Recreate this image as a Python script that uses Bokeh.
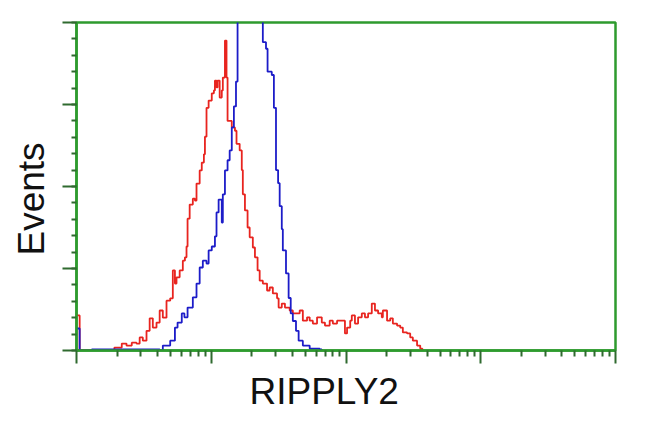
from bokeh.plotting import figure
from bokeh.models import Range1d, FixedTicker, SingleIntervalTicker, Title
from bokeh.embed import file_html
from bokeh.resources import INLINE

# channel numbers (256 channels per decade) and event counts
blue_ch = [0, 6, 29, 139, 158, 164, 178, 187, 192, 200, 205, 211, 221, 228, 234, 240, 247, 251, 257,
           263, 266, 270, 276, 278, 282, 287, 291, 295, 299, 303, 306, 312, 320, 327, 335, 343, 348,
           354, 360, 363, 371, 375, 379, 383, 386, 390, 392, 398, 403, 407, 411, 417, 422, 430, 443,
           462, 466]
blue_cnt = [6.7, 0, 0.3, 0.3, 0, 1.5, 3.0, 7.0, 8.5, 11.3, 10.1, 13.1, 16.2, 20.4, 25.3, 27.4, 26.5,
            30.5, 31.7, 34.8, 42.1, 46, 39, 47.6, 54.9, 58, 61, 68, 74.4, 82, 108, 118, 126, 130, 127,
            121, 112, 94, 92, 85, 84, 74, 55, 51, 44, 37, 30.5, 23.5, 16, 11.3, 9, 6, 3, 1.5, 0.6,
            0.3, 0]

red_ch = [0, 6, 72, 86, 95, 105, 114, 120, 126, 133, 139, 145, 152, 158, 164, 171, 178, 183, 187, 190,
          196, 202, 206, 209, 211, 215, 221, 225, 228, 234, 238, 242, 244, 247, 251, 257, 261, 263,
          266, 268, 272, 276, 278, 282, 285, 287, 295, 301, 304, 310, 314, 316, 320, 325, 329, 335,
          339, 344, 348, 354, 362, 367, 373, 381, 384, 390, 396, 405, 411, 419, 424, 430, 438, 443,
          449, 457, 466, 472, 481, 487, 495, 504, 510, 514, 520, 523, 529, 535, 542, 548, 554, 561,
          567, 573, 580, 582, 590, 596, 601, 609, 615, 620, 628, 634, 639, 647, 653, 657]
red_cnt = [10.7, 0, 0.9, 2.1, 1.5, 2.4, 2.1, 4, 3, 6, 9.8, 7, 8.5, 12.2, 10, 15.2, 15.9, 24.4, 20.4,
           22.3, 24.4, 27.4, 28.4, 31.7, 40.2, 44.5, 46.3, 45.7, 50.9, 54.9, 57.3, 59.8, 65.2, 74,
           76.2, 78.4, 79.3, 82.3, 80.2, 82.3, 77.1, 79.3, 83.2, 94.5, 83.2, 70, 68, 67, 63, 61, 55,
           47.6, 42.7, 37.5, 34.5, 31.4, 28.4, 24.4, 21.3, 20.4, 18.3, 19.2, 17.4, 15.9, 13.1, 14.3,
           13.1, 12.2, 11.3, 11.3, 12.2, 9.1, 10.1, 9.1, 8.2, 10.1, 8.5, 7.6, 9.1, 8.2, 9.1, 9.1, 5.2,
           7, 9.1, 10.7, 8.2, 10.1, 11.3, 10.1, 11.3, 14.3, 12.2, 11.3, 10.1, 12.2, 9.1, 9.8, 8.2,
           7.6, 7, 5.5, 5.2, 4, 3, 1.5, 0.6, 0]

x_major = [1, 10, 100, 1000, 10000]
x_title = "RIPPLY2"
y_title = "Events"
CH_PER_DECADE = 256

blue_x = [10 ** (c / CH_PER_DECADE) for c in blue_ch]
red_x = [10 ** (c / CH_PER_DECADE) for c in red_ch]
x_minor = [k * d for d in x_major[:-1] for k in range(2, 10)]

GREEN = "#2e9b2e"
TICK = "#2f6a2f"

p = figure(width=648, height=430, x_axis_type="log", output_backend="svg", toolbar_location=None,
           x_range=Range1d(1, 10000), y_range=Range1d(0, 100),
           min_border_left=76, min_border_right=33, min_border_top=22, min_border_bottom=80)
p.grid.visible = False
p.background_fill_color = "white"
p.border_fill_color = "white"
p.outline_line_color = GREEN
p.outline_line_width = 2.5

p.step(red_x, red_cnt, mode="after", line_color="#e8241f", line_width=1.8)
p.step(blue_x, blue_cnt, mode="after", line_color="#1c1cc8", line_width=1.8)

p.xaxis.ticker = FixedTicker(ticks=x_major, minor_ticks=x_minor)
p.yaxis.ticker = SingleIntervalTicker(interval=25, num_minor_ticks=5)

for ax in (p.xaxis[0], p.yaxis[0]):
    ax.axis_line_color = GREEN
    ax.axis_line_width = 2.5
    ax.major_tick_line_color = TICK
    ax.minor_tick_line_color = TICK
    ax.major_tick_line_width = 2
    ax.minor_tick_line_width = 2
    ax.major_tick_in = 0
    ax.minor_tick_in = 0
    ax.major_label_text_font_size = "1px"
    ax.major_label_text_color = None
    ax.major_label_standoff = 0

p.xaxis.major_tick_out = 13
p.xaxis.minor_tick_out = 6
p.yaxis.major_tick_out = 14
p.yaxis.minor_tick_out = 5

p.add_layout(Title(text=x_title, align="left", offset=173, standoff=10,
                   text_font="Liberation Sans", text_font_size="37px",
                   text_font_style="normal", text_color="#111111"), "below")
p.add_layout(Title(text=y_title, align="left", offset=95, standoff=17, vertical_align="top",
                   text_font="Liberation Sans", text_font_size="37px",
                   text_font_style="normal", text_color="#111111"), "left")

open("out.html", "w").write(file_html(p, INLINE))
